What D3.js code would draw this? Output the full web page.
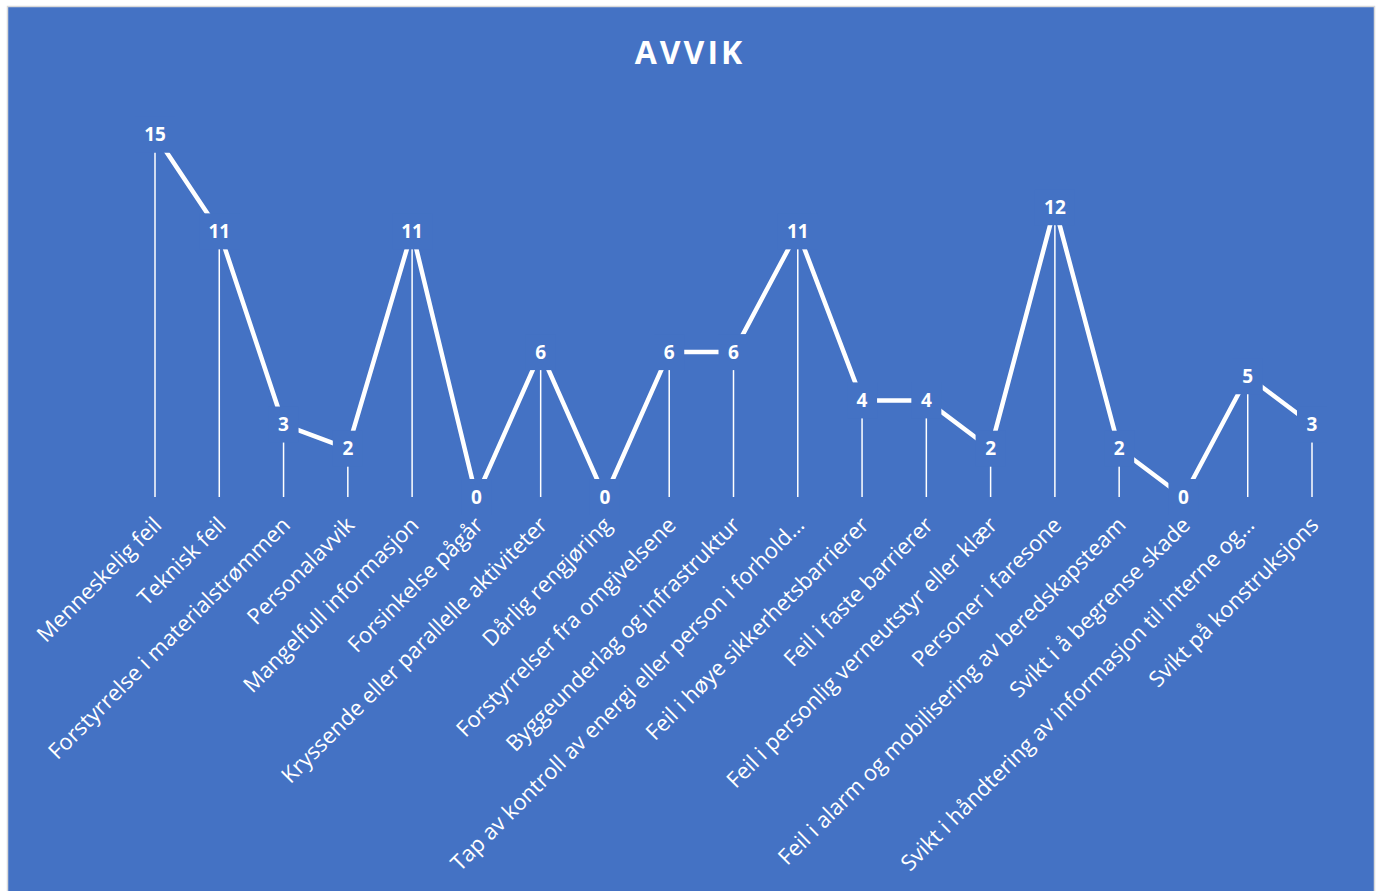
<!DOCTYPE html>
<html>
<head>
<meta charset="utf-8">
<script src="https://cdn.jsdelivr.net/npm/d3@7"></script>
<style>
  html, body { margin: 0; padding: 0; background: #fff; }
  svg { display: block; }
</style>
</head>
<body>
<div id="chart-area"></div>
<script>
const width = 1378,
  height = 891;

const categories = [
  "Menneskelig feil",
  "Teknisk feil",
  "Forstyrrelse i materialstrømmen",
  "Personalavvik",
  "Mangelfull informasjon",
  "Forsinkelse pågår",
  "Kryssende eller parallelle aktiviteter",
  "Dårlig rengjøring",
  "Forstyrrelser fra omgivelsene",
  "Byggeunderlag og infrastruktur",
  "Tap av kontroll av energi eller person i forhold…",
  "Feil i høye sikkerhetsbarrierer",
  "Feil i faste barrierer",
  "Feil i personlig verneutstyr eller klær",
  "Personer i faresone",
  "Feil i alarm og mobilisering av beredskapsteam",
  "Svikt i å begrense skade",
  "Svikt i håndtering av informasjon til interne og…",
  "Svikt på konstruksjons"
];
const values = [15, 11, 3, 2, 11, 0, 6, 0, 6, 6, 11, 4, 4, 2, 12, 2, 0, 5, 3];
const title = "AVVIK";

const data = categories.map((c, i) => ({ cat: c, value: values[i] }));

const bg = "#4472C4";
const font = "'Open Sans', 'Noto Sans', sans-serif";

const svg = d3.select("#chart-area").append("svg")
  .attr("width", width)
  .attr("height", height);

// chart frame
svg.append("rect")
  .attr("x", 7.5).attr("y", 6.5)
  .attr("width", 1367).attr("height", 890)
  .attr("fill", bg)
  .attr("stroke", "#d9d9d9")
  .attr("stroke-width", 1.5);

const x = d3.scalePoint()
  .domain(categories)
  .range([155, 1312]);

const y = d3.scaleLinear()
  .domain([0, 16])
  .range([497, 110.6]);

svg.append("text")
  .attr("x", 690)
  .attr("y", 64)
  .attr("text-anchor", "middle")
  .attr("fill", "#fff")
  .style("font-family", font)
  .style("font-weight", 700)
  .style("font-size", "32px")
  .style("letter-spacing", "3px")
  .text(title);

// drop lines
svg.append("g")
  .selectAll("line")
  .data(data)
  .join("line")
  .attr("x1", d => x(d.cat))
  .attr("x2", d => x(d.cat))
  .attr("y1", d => y(d.value))
  .attr("y2", y(0))
  .attr("stroke", "#fff")
  .attr("stroke-width", 1.5);

// main line
const line = d3.line()
  .x(d => x(d.cat))
  .y(d => y(d.value));

svg.append("path")
  .datum(data)
  .attr("fill", "none")
  .attr("stroke", "#fff")
  .attr("stroke-width", 4.5)
  .attr("stroke-linejoin", "round")
  .attr("d", line);

// data labels with background boxes
const labels = svg.append("g")
  .selectAll("g")
  .data(data)
  .join("g")
  .attr("transform", d => `translate(${x(d.cat)},${y(d.value)})`);

labels.append("rect")
  .attr("x", d => String(d.value).length > 1 ? -20 : -15)
  .attr("y", -18)
  .attr("width", d => String(d.value).length > 1 ? 40 : 30)
  .attr("height", 36)
  .attr("fill", bg);

labels.append("text")
  .attr("text-anchor", "middle")
  .attr("dy", "0.35em")
  .attr("fill", "#fff")
  .style("font-family", font)
  .style("font-weight", 700)
  .style("font-size", "19px")
  .text(d => d.value);

// category axis labels
const xAxis = d3.axisBottom(x).tickSize(0).tickPadding(0);
const gx = svg.append("g")
  .attr("transform", `translate(0,${y(0)})`)
  .call(xAxis);
gx.select(".domain").remove();
gx.selectAll("text")
  .attr("fill", "#fff")
  .attr("text-anchor", "end")
  .attr("dy", "0.35em")
  .attr("transform", "translate(2,24) rotate(-45)")
  .style("font-family", font)
  .style("font-size", "22px");
</script>
</body>
</html>
